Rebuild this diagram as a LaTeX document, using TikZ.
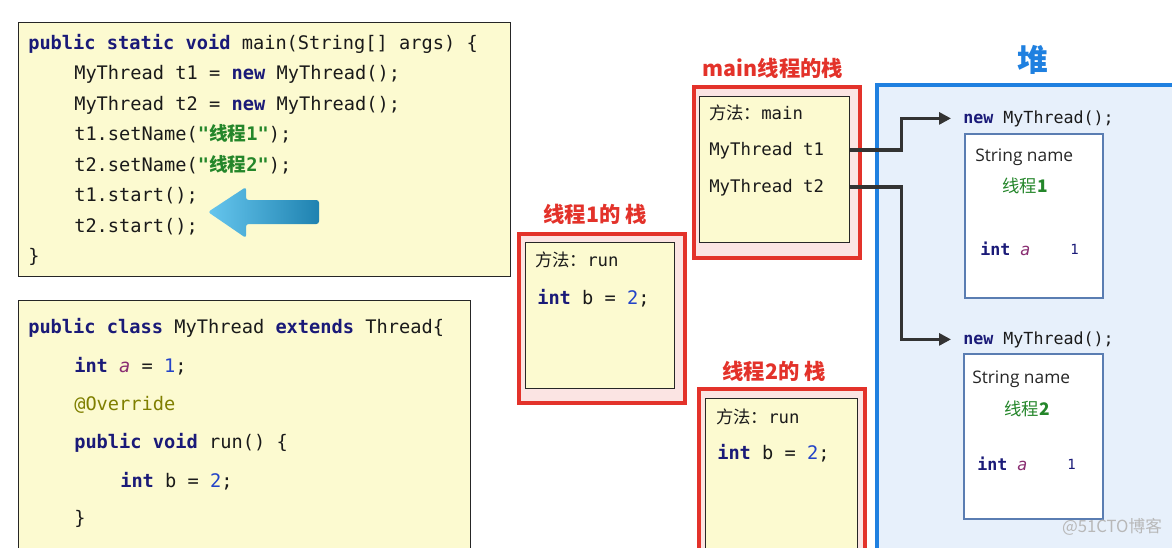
\documentclass[tikz,border=0pt]{standalone}
\usepackage{fontspec}
\setmainfont{Open Sans}
\setmonofont{DejaVu Sans Mono}
\newfontfamily\cjk{Noto Sans CJK SC}
\usetikzlibrary{positioning,arrows.meta,calc}

\definecolor{codebg}{HTML}{FCFAD0}
\definecolor{codetext}{HTML}{1A1A1A}
\definecolor{kwnavy}{HTML}{1A1A78}
\definecolor{strgreen}{HTML}{24862A}
\definecolor{numblue}{HTML}{2343C8}
\definecolor{varpurple}{HTML}{8A2E72}
\definecolor{annot}{HTML}{7F7F00}
\definecolor{stackred}{HTML}{E3322A}
\definecolor{stackpink}{HTML}{FBE4E3}
\definecolor{heapblue}{HTML}{1F80E0}
\definecolor{heapfill}{HTML}{E7F0FB}
\definecolor{objblue}{HTML}{5A7DB2}
\definecolor{refgray}{HTML}{333333}
\definecolor{arrowlight}{HTML}{66C6EE}
\definecolor{arrowdark}{HTML}{1F82B0}

\newcommand{\kw}[1]{\textbf{\color{kwnavy}#1}}
\newcommand{\numc}[1]{{\color{numblue}#1}}
\newcommand{\vname}[1]{{\color{varpurple}\itshape #1}}
\newcommand{\zhstr}[1]{{\color{strgreen}\bfseries"{\cjk 线程}#1"}}

\begin{document}
\begin{tikzpicture}[x=0.75pt, y=-0.75pt,
    codebox/.style={draw=black!85, line width=1.1pt, fill=codebg, anchor=north west, inner sep=0pt},
    codeline/.style={anchor=base west, inner sep=0pt, text=codetext, font=\fontsize{14pt}{17pt}\selectfont\ttfamily},
    stacktitle/.style={text=stackred, font=\fontsize{16pt}{19pt}\selectfont\cjk\bfseries},
    stackouter/.style={draw=stackred, line width=3pt, fill=stackpink, anchor=north west, inner sep=0pt},
    stackinner/.style={draw=black!85, line width=1pt, fill=codebg, anchor=north west, inner sep=0pt},
    stackline/.style={anchor=base west, inner sep=0pt, text=codetext, font=\fontsize{13pt}{16pt}\selectfont\ttfamily},
    heapbox/.style={draw=heapblue, line width=2.4pt, fill=heapfill},
    objbox/.style={draw=objblue, line width=1.6pt, fill=white, anchor=north west, inner sep=0pt},
    objline/.style={anchor=base west, inner sep=0pt, text=codetext, font=\fontsize{12.5pt}{15pt}\selectfont\ttfamily},
    objnum/.style={anchor=base west, inner sep=0pt, text=kwnavy, font=\fontsize{10.5pt}{13pt}\selectfont\ttfamily},
    fieldname/.style={anchor=base west, inner sep=0pt, text=black!85, font=\fontsize{13pt}{16pt}\selectfont},
    fieldval/.style={text=strgreen, font=\fontsize{13pt}{16pt}\selectfont\cjk},
    refarrow/.style={draw=refgray, line width=2.6pt, -{Triangle[length=9pt,width=9pt]}, shorten >=9pt}
]
    \useasboundingbox (0,0) rectangle (1172,547);
    \clip (0,0) rectangle (1172,547);
    \fill[white] (0,0) rectangle (1172,547);

    % main method code
    \node[codebox, minimum width=369pt, minimum height=190.5pt] (mainbox) at (18,22) {};
    \foreach \x/\y/\txt [count=\i] in {
        28/49/{\kw{public static void} main(String[] args) \{},
        74/79/{MyThread t1 = \kw{new} MyThread();},
        74/110/{MyThread t2 = \kw{new} MyThread();},
        74/140/{t1.setName(\zhstr{1});},
        74/171/{t2.setName(\zhstr{2});},
        74/201/{t1.start();},
        74/232/{t2.start();},
        28/262/{\}}} {
        \node[codeline] (mc\i) at (\x,\y) {\txt};
    }
    \shade[left color=arrowlight, right color=arrowdark, rounded corners=2pt]
        (208,212) -- (246,187) -- (246,200) -- (319,200) -- (319,224) -- (246,224) -- (246,238) -- cycle;

    % thread class code
    \node[codebox, minimum width=339pt, minimum height=200pt] (classbox) at (18,300) {};
    \foreach \x/\y/\txt [count=\i] in {
        28/333/{\kw{public class} MyThread \kw{extends} Thread\{},
        74/372/{\kw{int} \vname{a} = \numc{1};},
        74/410/{{\color{annot}@Override}},
        74/448/{\kw{public void} run() \{},
        120/487/{\kw{int} b = \numc{2};},
        74/524/{\}}} {
        \node[codeline] (tc\i) at (\x,\y) {\txt};
    }

    % stack of thread 1
    \node[stacktitle] (t1title) at (595,214) {线程1的 栈};
    \node[stackouter, minimum width=124.5pt, minimum height=126.75pt] (t1out) at (517,232) {};
    \node[stackinner, minimum width=111.75pt, minimum height=109.5pt] (t1in) at (525,242) {};
    \node[stackline] (t1meth) at (535,266) {{\cjk 方法：}run};
    \node[codeline] (t1var) at (537,304) {\kw{int} b = \numc{2};};

    % stack of main
    \node[stacktitle] (maintitle) at (773,68) {main线程的栈};
    \node[stackouter, minimum width=124.5pt, minimum height=128.25pt] (mainout) at (692,85) {};
    \node[stackinner, minimum width=112.5pt, minimum height=109.5pt] (mainin) at (699,96) {};
    \node[stackline] (mainmeth) at (709,119) {{\cjk 方法：}main};
    \node[stackline] (reft1) at (709,155) {MyThread t1};
    \node[stackline] (reft2) at (709,192) {MyThread t2};

    % stack of thread 2
    \node[stacktitle] (t2title) at (774,371) {线程2的 栈};
    \node[stackouter, minimum width=124.5pt, minimum height=140pt] (t2out) at (697,387) {};
    \node[stackinner, minimum width=114pt, minimum height=130pt] (t2in) at (705,398) {};
    \node[stackline] (t2meth) at (716,423) {{\cjk 方法：}run};
    \node[codeline] (t2var) at (717,459) {\kw{int} b = \numc{2};};

    % heap
    \node[text=heapblue, font=\fontsize{23pt}{26pt}\selectfont\cjk\bfseries] (heaptitle) at (1033,60) {堆};
    \draw[heapbox] (877,85) rectangle (1190,570);

    \node[objline] (newa) at (963,123) {\kw{new} MyThread();};
    \node[objbox, minimum width=103.5pt, minimum height=123pt] (obja) at (964,133) {};
    \node[fieldname] (namea) at (975,161) {String name};
    \node[fieldval] (vala) at (1025,186) {线程\textbf{1}};
    \node[objline] (inta) at (980,255) {\kw{int} \vname{a}};
    \node[objnum] (numa) at (1070,254) {1};

    \node[objline] (newb) at (963,344) {\kw{new} MyThread();};
    \node[objbox, minimum width=104.25pt, minimum height=123.75pt] (objb) at (963,353) {};
    \node[fieldname] (nameb) at (972,383) {String name};
    \node[fieldval] (valb) at (1027,409) {线程\textbf{2}};
    \node[objline] (intb) at (977,470) {\kw{int} \vname{a}};
    \node[objnum] (numb) at (1067,469) {1};

    % references from main stack to heap
    \draw[refarrow] (mainin.east |- reft1) -- ++(51,0) |- (newa.west);
    \draw[refarrow] (mainin.east |- reft2) -- ++(51,0) |- (newb.west);

    \node[text=black!28, font=\fontsize{12.5pt}{14pt}\selectfont\cjk] (mark) at (1112,527) {@51CTO博客};
\end{tikzpicture}
\end{document}
